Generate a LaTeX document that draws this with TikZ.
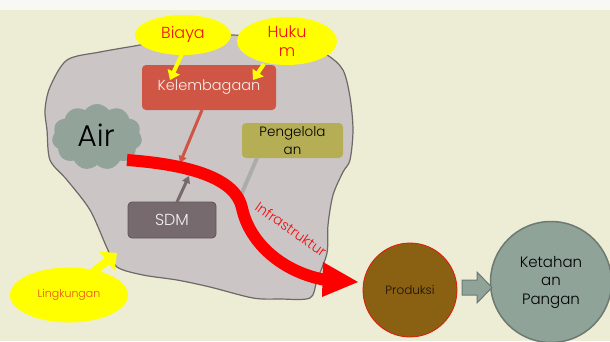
\documentclass[tikz,border=0pt]{standalone}
\usepackage{fontspec}
\setmainfont{Poppins}[UprightFont={* Light}]
\usetikzlibrary{shapes.symbols,shapes.geometric,arrows.meta}
\definecolor{bgc}{HTML}{EDEDD5}
\definecolor{topc}{HTML}{F8F9F4}
\definecolor{blobc}{HTML}{CBC5C6}
\definecolor{blobline}{HTML}{6E6868}
\definecolor{cloudc}{HTML}{92A499}
\definecolor{kelc}{HTML}{CF5644}
\definecolor{pengc}{HTML}{B5AE55}
\definecolor{sdmc}{HTML}{766A6E}
\definecolor{yel}{HTML}{FFFF00}
\definecolor{redt}{HTML}{F01010}
\definecolor{prodc}{HTML}{8A6012}
\definecolor{ketc}{HTML}{8FA398}
\definecolor{ketline}{HTML}{6D7A72}
\definecolor{lingt}{HTML}{E8501A}
\tikzset{
  boxstyle/.style={rounded corners=4pt, inner sep=0pt, align=center},
  yellipse/.style={ellipse, fill=yel, inner sep=0pt, align=center, text=redt},
  yarrow/.style={draw=yel, line width=4pt, -{Triangle[length=9pt,width=13pt]}},
}
\begin{document}
\begin{tikzpicture}[x=1pt,y=-1pt]
\useasboundingbox (0,0) rectangle (610,341);
\fill[bgc] (0,0) rectangle (610,341);
\fill[topc] (0,0) rectangle (610,10);
% blob
\draw[blobline, fill=blobc, line width=1.2pt] plot[smooth cycle, tension=0.5] coordinates {
 (67,60) (100,52) (140,45) (175,38) (230,35) (262,38) (300,45) (327,55) (343,70) (350,97)
 (353,130) (350,160) (343,172) (333,195) (328,225) (327,253) (317,280) (310,298)
 (280,299) (253,298) (210,287) (177,280) (143,275) (117,267) (107,248) (90,210)
 (67,180) (50,160) (47,130) (45,110) (50,87)};
% cloud
\node[cloud, cloud puffs=11, cloud puff arc=110, aspect=1.4, fill=cloudc, minimum width=90pt, minimum height=66pt, inner sep=0pt] (aircloud) at (97,137) {};
\node[font=\fontsize{30}{32}\selectfont] (air) at (96,135) {Air};
% boxes
\node[boxstyle, fill=kelc, minimum width=134pt, minimum height=45pt, text=white!90!kelc, font=\fontsize{14.5}{16}\selectfont] (kel) at (209,87.5) {Kelembagaan};
\node[boxstyle, fill=pengc, minimum width=101pt, minimum height=35pt, font=\fontsize{13.5}{18}\selectfont] (peng) at (292.5,140.5) {Pengelola\\an};
\node[boxstyle, fill=sdmc, draw=sdmc!80!black, line width=0.8pt, minimum width=88pt, minimum height=36pt, text=white!92!sdmc, font=\fontsize{16}{18}\selectfont] (sdm) at (172,220) {SDM};
% connectors into red arrow
\coordinate (kelend) at (180,163);
\coordinate (sdmend) at (189,176);
\coordinate (pengend) at (238,202);
\draw[kelc, line width=3pt, -{Triangle[length=7pt,width=8pt]}] (202,110) -- (kelend);
\draw[sdmc, line width=3pt, -{Triangle[length=7pt,width=8pt]}] (177,202) -- (sdmend);
\draw[gray!65, line width=4pt] (257,158) -- (pengend);
% big red arrow
\coordinate (rstart) at (127,160);
\coordinate (rend) at (326,280);
\draw[red, line width=12pt] (rstart) .. controls (195,165) and (236,180) .. (242,208)
  .. controls (250,245) and (285,273) .. (rend);
\fill[red] (323,262) -- (358,282) -- (322,297) -- cycle;
\node[text=redt, rotate=-35, font=\fontsize{14}{16}\selectfont] (infra) at (291,229) {Infrastruktur};
% yellow ellipses
\node[yellipse, minimum width=96pt, minimum height=40pt, font=\fontsize{16}{18}\selectfont] (biaya) at (183,35) {Biaya};
\node[yellipse, minimum width=100pt, minimum height=48pt, font=\fontsize{16}{19}\selectfont] (hukum) at (287,41) {Huku\\m};
\node[yellipse, minimum width=118pt, minimum height=55pt, text=lingt, font=\fontsize{11}{13}\selectfont] (ling) at (69,295) {Lingkungan};
\coordinate (biayaend) at (170,80);
\coordinate (hukumend) at (253,80);
\coordinate (lingend) at (117,253);
\draw[yarrow] (182,54) -- (biayaend);
\draw[yarrow] (264,64) -- (hukumend);
\draw[draw=yel, line width=8pt, -{Triangle[length=13pt,width=24pt]}] (92,273) -- (lingend);
% circles
\node[circle, fill=prodc, draw=red!75!prodc, line width=0.8pt, minimum size=94pt, inner sep=0pt, text=black!80!prodc, font=\fontsize{12}{14}\selectfont] (prod) at (410,290) {Produksi};
\node[circle, fill=ketc, draw=ketline, line width=1.5pt, minimum size=121pt, inner sep=0pt, align=center, font=\fontsize{15}{18.5}\selectfont] (ket) at (551,282) {Ketahan\\an\\Pangan};
% block arrow between circles
\filldraw[fill=ketc, draw=ketline, line width=1pt] (462,280) -- (477,280) -- (477,272) -- (492,287.5) -- (477,303) -- (477,295) -- (462,295) -- cycle;
\end{tikzpicture}
\end{document}
